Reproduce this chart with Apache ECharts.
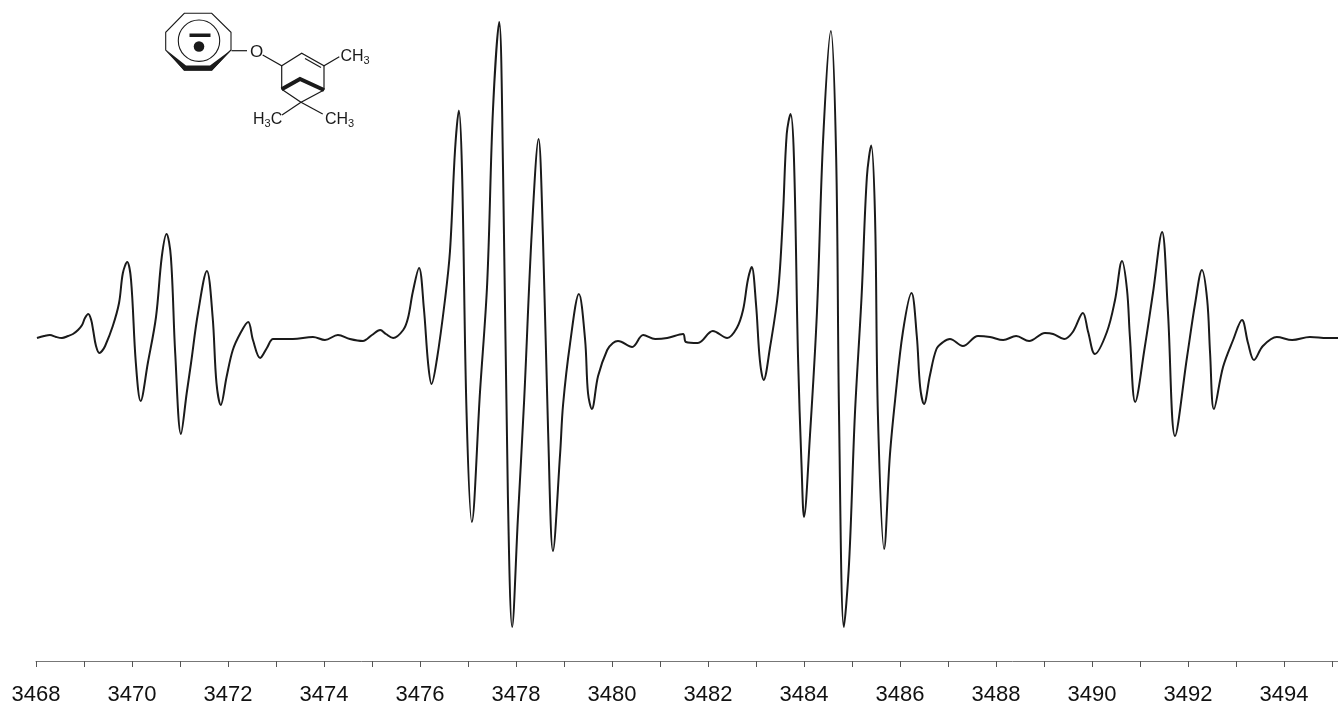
<!DOCTYPE html>
<html>
<head>
<meta charset="utf-8">
<style>html,body{margin:0;padding:0;background:#fff}#c{width:1338px;height:705px}</style>
<script src="https://cdn.jsdelivr.net/npm/echarts@6/dist/echarts.min.js"></script>
</head>
<body>
<div id="c"></div>
<script>
const fieldStart = 3468;
const fieldOffsets = [0.02,0.17,0.29,0.42,0.54,0.67,0.77,0.875,0.96,1.02,1.09,1.15,1.19,1.25,1.32,1.375,1.44,1.60,1.73,1.81,1.90,1.98,2.08,2.18,2.33,2.5,2.62,2.72,2.81,2.90,3.02,3.14,3.23,3.375,3.56,3.68,3.76,3.85,3.97,4.10,4.26,4.42,4.52,4.67,4.81,4.94,5.15,5.35,5.77,6.02,6.29,6.54,6.81,7.0,7.17,7.29,7.44,7.65,7.75,7.85,7.98,8.08,8.17,8.24,8.35,8.52,8.625,8.73,8.81,8.875,8.97,9.08,9.25,9.40,9.52,9.65,9.73,9.83,9.92,10.04,10.17,10.33,10.47,10.56,10.67,10.77,10.92,10.98,11.125,11.31,11.44,11.5,11.58,11.71,11.9,12.02,12.125,12.42,12.65,12.9,13.15,13.48,13.54,13.79,14.1,14.4,14.6,14.73,14.83,14.91,15.0,15.08,15.16,15.29,15.46,15.56,15.64,15.72,15.79,15.875,15.95,16.0,16.125,16.27,16.4,16.56,16.67,16.73,16.83,16.94,17.06,17.2,17.31,17.4,17.48,17.54,17.67,17.79,17.9,18.06,18.24,18.35,18.42,18.5,18.625,18.76,18.9,19.04,19.31,19.625,19.875,20.15,20.42,20.69,21.02,21.19,21.42,21.6,21.81,21.92,22.06,22.31,22.48,22.625,22.73,22.79,22.9,23.1,23.27,23.46,23.58,23.73,23.98,24.15,24.29,24.4,24.46,24.54,24.73,24.94,25.125,25.25,25.375,25.56,25.85,26.17,26.54,26.9,27.125];
const intensity = [0,2,3,1,0,2,4,8,13,20,24,18,8,-8,-15,-13,-8,12,35,65,76,58,-25,-63,-25,21,81,104,81,-15,-96,-55,-25,25,67,21,-45,-67,-39,-12,5,16,-2,-20,-10,-1,-1,-1,1,-2,3,-1,-3,3,8,4,0,8,20,46,70,30,-26,-46,-22,38,87,188,227.5,168,-75,-184,-54,55,228,316,168,-155,-289,-180,-62,107,199,103,-95,-213,-115,-67,-6,44,-2,-55,-71,-38,-12,-5,-3,-9,3,-1,0,4,-4,-5,7,0,10,28,58,71,34,-22,-42,-10,46,121,204,224,181,-18,-129,-179,-97,26,200,307,181,-77,-289,-224,-77,42,161,192.5,121,-77,-211,-117,-61,6,45,2,-49,-66,-37,-11,-4,-1,-8,2,1,-2,2,-3,5,4,-1,6,25,6,-16,6,38,77,48,1,-64,-9,45,106,28,-98,-19,35,68,38,-15,-71,-29,-2,18,-5,-22,-8,1,-2,1,0,0];
const labelledTicks = [3468,3470,3472,3474,3476,3478,3480,3482,3484,3486,3488,3490,3492,3494];

const points = fieldOffsets.map((d, i) => [fieldStart + d, intensity[i]]);
const ink = '#1a1a1a';
const thin = {stroke: ink, lineWidth: 1.2, fill: null};
const line = (pts, style) => ({type: 'polyline', silent: true, shape: {points: pts}, style: Object.assign({}, thin, style || {})});
const label = (x, y, text) => ({type: 'text', silent: true, x, y, style: {text, fontFamily: 'Liberation Sans', fontSize: 16, fill: ink, verticalAlign: 'middle', rich: {
  s: {fontFamily: 'Liberation Sans', fontSize: 11, fill: ink, padding: [7, 0, 0, 0]},
  b: {fontFamily: 'Liberation Sans', fontSize: 16, fill: ink}
}}});

const molecule = [
  {type: 'polygon', silent: true, shape: {points: [[184.3,13.3],[211.7,13.3],[231,32.3],[231,50],[211.7,70],[184.3,70],[165.7,50],[165.7,32.3]]}, style: {stroke: ink, lineWidth: 1.1, fill: null}},
  {type: 'polygon', silent: true, shape: {points: [[165.7,49.5],[184,70.8],[212,70.8],[231.5,49.5],[210,65.5],[186,65.5]]}, style: {fill: ink}},
  {type: 'circle', silent: true, shape: {cx: 199, cy: 40.7, r: 20.7}, style: {stroke: ink, lineWidth: 1.1, fill: null}},
  {type: 'rect', silent: true, shape: {x: 189.5, y: 33.5, width: 21, height: 3.5}, style: {fill: ink}},
  {type: 'circle', silent: true, shape: {cx: 199, cy: 46.5, r: 5.3}, style: {fill: ink}},
  line([[231.5,50.7],[247,50.7]]),
  line([[262.7,55],[281.7,65.7],[301.7,53.3],[324,65.7],[339.3,56.7]]),
  line([[305,58.5],[321,67.5]]),
  line([[281.7,65.7],[281.7,89.3]]),
  line([[324,65.7],[324,90]]),
  line([[281.7,89.3],[300,79],[324,90]], {lineWidth: 4}),
  line([[281.7,89.3],[301,102.3],[324,90]]),
  line([[301,102.3],[282,115]]),
  line([[301,102.3],[322.7,114]]),
  {type: 'text', silent: true, x: 250, y: 44, style: {text: 'O', fontFamily: 'Liberation Sans', fontSize: 17, fill: ink}},
  label(340.5, 57, '{b|CH}{s|3}'),
  label(253, 120, '{b|H}{s|3}{b|C}'),
  label(325, 120, '{b|CH}{s|3}')
];

const chart = echarts.init(document.getElementById('c'), null, {renderer: 'canvas'});
chart.setOption({
  animation: false,
  backgroundColor: '#fff',
  grid: {left: 36, right: 0, top: 0, bottom: 44, outerBoundsMode: 'none'},
  xAxis: {
    type: 'value', min: fieldStart, max: 3495.125, interval: 1,
    splitLine: {show: false},
    axisLine: {onZero: false, lineStyle: {color: '#777', width: 1}},
    axisTick: {length: 6, lineStyle: {color: '#555', width: 1}},
    axisLabel: {
      color: '#111', fontFamily: 'Liberation Sans', fontSize: 22, margin: 23,
      formatter: v => labelledTicks.includes(v) ? String(v) : ''
    }
  },
  yAxis: {type: 'value', min: -323, max: 338, show: false},
  series: [{
    type: 'line', data: points, showSymbol: false, smooth: 0.35,
    lineStyle: {color: ink, width: 2}
  }],
  graphic: molecule
});
</script>
</body>
</html>
